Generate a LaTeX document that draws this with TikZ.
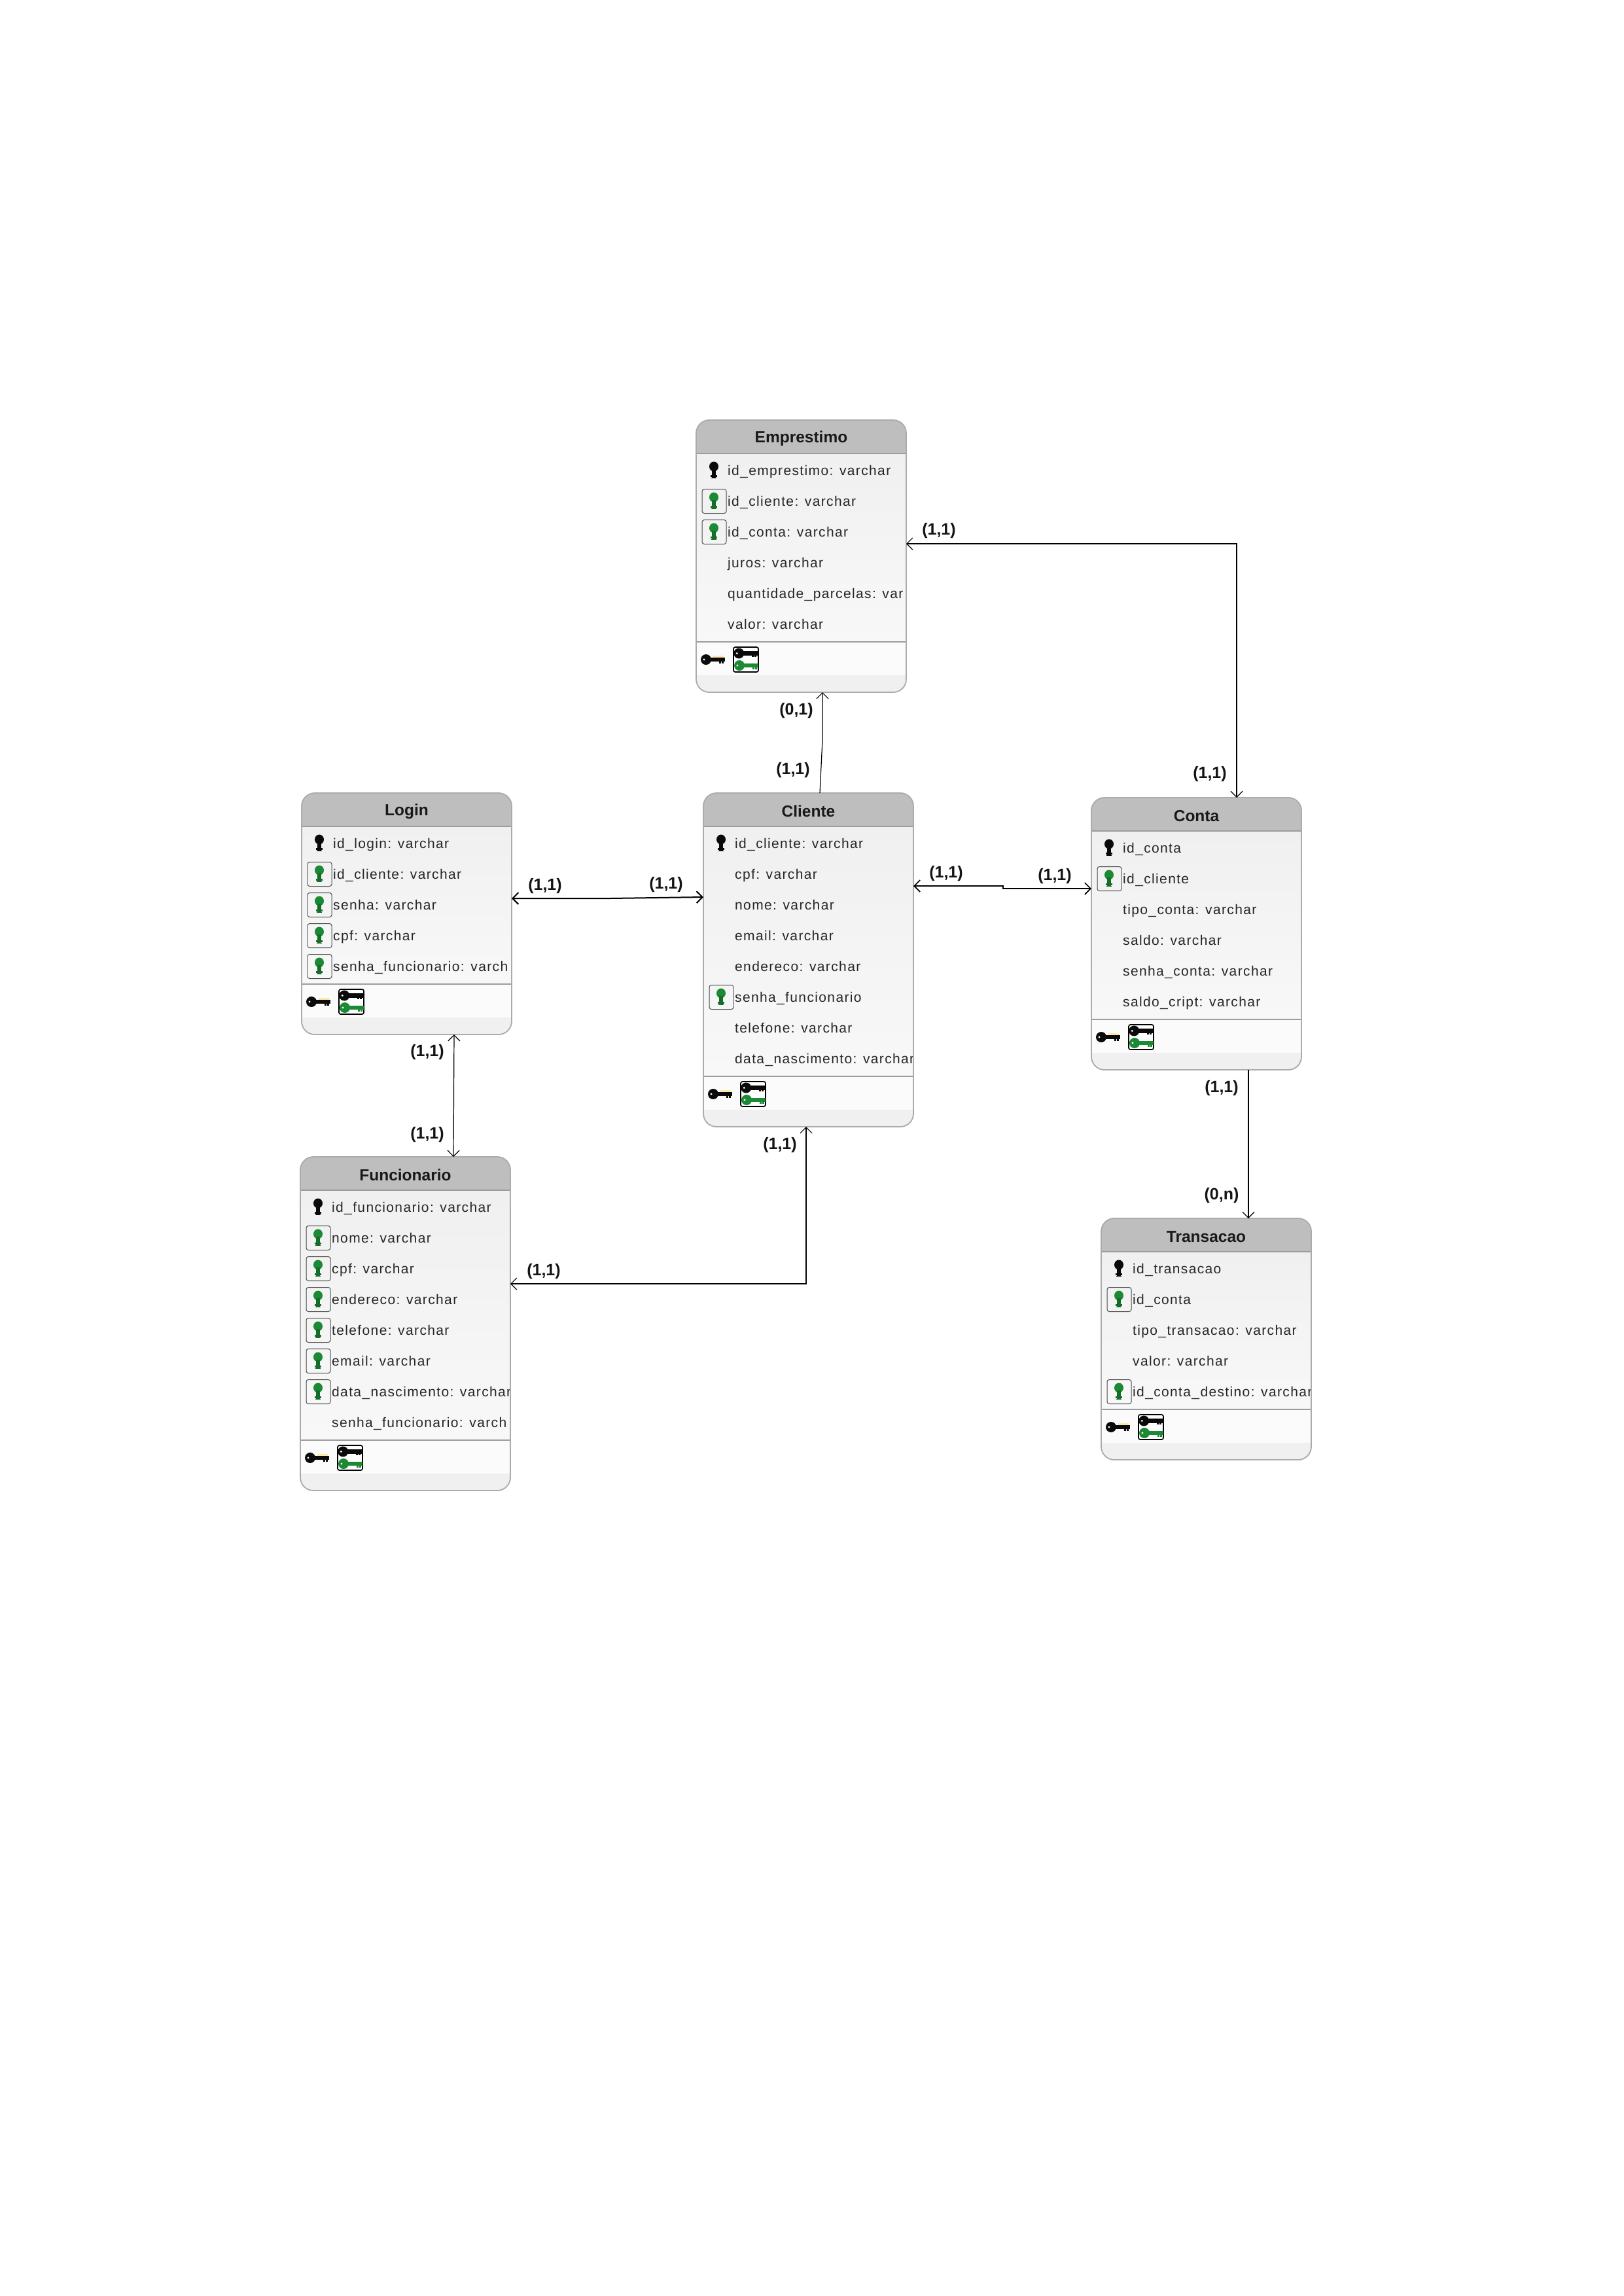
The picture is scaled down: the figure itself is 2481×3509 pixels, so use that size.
\documentclass[tikz,border=0pt]{standalone}
\usepackage{fontspec}
\setmainfont{Liberation Sans}
\newfontfamily\rowfont[LetterSpace=6.5]{Liberation Sans}
\usetikzlibrary{arrows.meta}
\definecolor{hdr}{HTML}{BEBEBE}
\definecolor{bord}{HTML}{ABABAB}
\definecolor{sepc}{HTML}{9C9C9C}
\definecolor{rowtop}{HTML}{F0F0F0}
\definecolor{rowbot}{HTML}{F8F8F8}
\definecolor{keyrow}{HTML}{FBFBFB}
\definecolor{foot}{HTML}{F0F0F0}
\definecolor{gkey}{HTML}{1C8A34}
\definecolor{gdark}{HTML}{0E5A20}
\definecolor{kblack}{HTML}{0A0A0A}
\definecolor{glow}{HTML}{FFE9A8}
\tikzset{
  tblbox/.style={draw=bord,line width=0.55pt,rounded corners=6pt,inner sep=0pt,outer sep=0pt,anchor=north west,minimum width=96.3pt},
  tbltitle/.style={font=\bfseries\fontsize{7.35pt}{8pt}\selectfont,inner sep=0pt,text=black!90},
  rowtext/.style={font=\rowfont\fontsize{6.3pt}{7pt}\selectfont,inner sep=0pt,anchor=base west,text=black!85},
  card/.style={font=\bfseries\fontsize{7.5pt}{8pt}\selectfont,inner sep=0pt,text=black!92},
  conn/.style={draw=black,line width=0.36pt},
  both/.style={conn,{Straight Barb[length=2.7pt,width=5.4pt]}-{Straight Barb[length=2.7pt,width=5.4pt]}},
  single/.style={conn,-{Straight Barb[length=2.7pt,width=5.4pt]}},
  fkbox/.style={draw=black!70,line width=0.3pt,rounded corners=1pt},
  keybox/.style={draw=black,line width=0.5pt,rounded corners=0.8pt,fill=white},
  pics/vkey/.style 2 args={code={
    \fill[#1] (0,-6) ellipse (7 and 7.5);
    \fill[#2] (-3.2,-2) rectangle (3.2,12);
    \fill[#2] (-4.6,7) rectangle (4.6,9.5);
    \fill[#2] (-4,10.5) rectangle (4,12);
  }},
  pics/hkey/.style={code={
    \fill[#1] (-11,0) circle (8);
    \fill[#1] (-6,-3.4) rectangle (18,3.4);
    \fill[#1] (9,2) rectangle (11.5,5.5);
    \fill[#1] (13,2) rectangle (15.5,5.5);
    \fill[white] (-14,0) circle (1.6);
  }},
}
% name, title, x0, y0, nrows, rows (type/text)
\newcommand\tbl[6]{%
  \pgfmathsetmacro\sepy{#4+77+(#5-1)*47+27}%
  \pgfmathsetmacro\boty{\sepy+77}%
  \pgfmathsetmacro\rgtx{#3+321}%
  \begin{scope}
    \clip[rounded corners=6pt] (#3,#4) rectangle (\rgtx,\boty);
    \fill[hdr] (#3,#4) rectangle (\rgtx,#4+51);
    \shade[top color=rowtop,bottom color=rowbot] (#3,#4+51) rectangle (\rgtx,\sepy);
    \fill[keyrow] (#3,\sepy) rectangle (\rgtx,\sepy+51);
    \fill[foot] (#3,\sepy+51) rectangle (\rgtx,\boty);
  \end{scope}
  \draw[sepc,line width=0.55pt] (#3,#4+51) -- (\rgtx,#4+51);
  \draw[sepc,line width=0.55pt] (#3,\sepy) -- (\rgtx,\sepy);
  \node[tbltitle] (#1-t) at (#3+160.5,#4+28) {#2};
  \begin{scope}
    \clip (#3,#4+53) rectangle (\rgtx-1,\sepy);
    \foreach \ty/\tx [count=\i from 0] in {#6} {
      \pgfmathsetmacro\ry{#4+77+\i*47}
      \node[rowtext] (#1-r\i) at (#3+47.5,\ry+7) {\tx};
      \if p\ty
        \pic at (#3+27,\ry) {vkey={kblack}{kblack}};
      \fi
      \if f\ty
        \draw[fkbox] (#3+9,\ry-18.5) rectangle (#3+46,\ry+18.5);
        \pic at (#3+27,\ry) {vkey={gkey}{gdark!60!gkey}};
      \fi
    }
  \end{scope}
  \fill[glow] (#3+26,\sepy+21) rectangle (#3+42,\sepy+25);
  \pic at (#3+26,\sepy+27) {hkey={kblack}};
  \draw[keybox] (#3+57,\sepy+8) rectangle (#3+95,\sepy+46);
  \begin{scope}[shift={(#3+77,\sepy+17.5)},scale=0.72]
    \pic at (-1,0) {hkey={kblack}};
  \end{scope}
  \begin{scope}[shift={(#3+77,\sepy+36)},scale=0.72]
    \pic at (0,0) {hkey={gkey}};
  \end{scope}
  \node[tblbox,minimum height={(\boty-#4)*0.3pt}] (#1) at (#3,#4) {};
}
\begin{document}
\begin{tikzpicture}[x=0.3pt,y=-0.3pt]
\useasboundingbox (0,0) rectangle (2481,3509);
\fill[white] (0,0) rectangle (2481,3509);

\tbl{emprestimo}{Emprestimo}{1064}{642}{6}{%
  p/id\_emprestimo: varchar,f/id\_cliente: varchar,f/id\_conta: varchar,%
  n/juros: varchar,n/quantidade\_parcelas: var,n/valor: varchar}
\tbl{login}{Login}{461}{1212}{5}{%
  p/id\_login: varchar,f/id\_cliente: varchar,f/senha: varchar,%
  f/cpf: varchar,f/senha\_funcionario: varch}
\tbl{cliente}{Cliente}{1075}{1212}{8}{%
  p/id\_cliente: varchar,n/cpf: varchar,n/nome: varchar,n/email: varchar,%
  n/endereco: varchar,f/senha\_funcionario,n/telefone: varchar,n/data\_nascimento: varchar}
\tbl{conta}{Conta}{1668}{1219}{6}{%
  p/id\_conta,f/id\_cliente,n/tipo\_conta: varchar,n/saldo: varchar,%
  n/senha\_conta: varchar,n/saldo\_cript: varchar}
\tbl{funcionario}{Funcionario}{459}{1768}{8}{%
  p/id\_funcionario: varchar,f/nome: varchar,f/cpf: varchar,f/endereco: varchar,%
  f/telefone: varchar,f/email: varchar,f/data\_nascimento: varchar,n/senha\_funcionario: varch}
\tbl{transacao}{Transacao}{1683}{1862}{5}{%
  p/id\_transacao,f/id\_conta,n/tipo\_transacao: varchar,n/valor: varchar,%
  f/id\_conta\_destino: varchar}

% connectors
\draw[both,line width=0.6pt] ([shift={(0,-23.5)}]login.east) -- ++(150,0) -- ([shift={(0,-96)}]cliente.west);
\draw[both,line width=0.5pt] ([shift={(0,-113)}]cliente.east) -- ++(137,0) -- ++(0,4) -- ([shift={(0,-69)}]conta.west);
\draw[single] ([shift={(17.5,0)}]cliente.north) -- ++(4,-82) -- ([shift={(32.5,0)}]emprestimo.south);
\draw[both] ([shift={(0,-19)}]emprestimo.east) -| ([shift={(61.5,0)}]conta.north);
\draw[single] ([shift={(79.5,0)}]conta.south) -- ([shift={(64.5,0)}]transacao.north);
\draw[both] ([shift={(72.5,0)}]login.south) -- ([shift={(73.5,0)}]funcionario.north);
\draw[both] ([shift={(0,-61)}]funcionario.east) -| ([shift={(-3.5,0)}]cliente.south);

% cardinalities
\node[card] (c1) at (1435,811) {(1,1)};
\node[card] (c2) at (1217,1086) {(0,1)};
\node[card] (c3) at (1212,1177) {(1,1)};
\node[card] (c4) at (1849,1183) {(1,1)};
\node[card] (c5) at (833,1354) {(1,1)};
\node[card] (c6) at (1018,1352) {(1,1)};
\node[card] (c7) at (1446,1335) {(1,1)};
\node[card] (c8) at (1612,1339) {(1,1)};
\node[card] (c9) at (653,1608) {(1,1)};
\node[card] (c10) at (653,1734) {(1,1)};
\node[card] (c11) at (831,1943) {(1,1)};
\node[card] (c12) at (1192,1750) {(1,1)};
\node[card] (c13) at (1867,1663) {(1,1)};
\node[card] (c14) at (1867,1827) {(0,n)};
\end{tikzpicture}
\end{document}
